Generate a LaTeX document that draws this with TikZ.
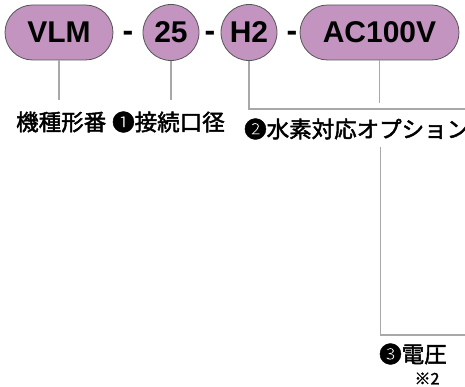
\documentclass[tikz,border=0pt]{standalone}
\usepackage{fontspec}
\setmainfont{Liberation Sans}
\newfontfamily\jpfont{Noto Sans CJK JP}[FakeBold=2]
\usetikzlibrary{positioning}
\definecolor{pillpink}{RGB}{196,148,193}
\definecolor{pilledge}{RGB}{85,85,85}
\definecolor{leadgray}{RGB}{168,168,168}

\begin{document}
\begin{tikzpicture}[x=1pt, y=-1pt,
    pill/.style={draw=pilledge, line width=0.8pt, fill=pillpink, rounded corners=27.5pt,
      minimum height=55pt, inner sep=0pt, font=\fontsize{30}{30}\selectfont\bfseries},
    ball/.style={draw=pilledge, line width=0.8pt, fill=pillpink, circle,
      minimum size=56pt, inner sep=0pt, font=\fontsize{30}{30}\selectfont\bfseries},
    dashmark/.style={anchor=base, inner sep=0pt, font=\fontsize{32}{30}\selectfont\bfseries},
    tag/.style={inner sep=0pt, font=\fontsize{22.5}{24}\selectfont\jpfont},
    lead/.style={draw=leadgray, line width=1.8pt}]
  \useasboundingbox (0,0) rectangle (465,387);
  % code blocks
  \node[pill, minimum width=108pt] (vlm) at (59,32.5) {VLM};
  \node[ball] (bore) at (171,32.5) {25};
  \node[ball] (hyd) at (249,32.5) {H2};
  \node[pill, minimum width=159pt] (volt) at (379.5,32.5) {AC100V};
  \node[dashmark] (d1) at (128,42) {-};
  \node[dashmark] (d2) at (210,42) {-};
  \node[dashmark] (d3) at (292,42) {-};
  % labels
  \node[tag, anchor=west] (model) at (16,122) {機種形番};
  \node[tag, anchor=west] (boretag) at (112,122) {❶接続口径};
  \node[tag, anchor=west] (hydtag) at (244,129) {❷水素対応オプション};
  \node[tag, anchor=west] (volttag) at (379,354) {❸電圧};
  \node[inner sep=0pt, font=\fontsize{16}{18}\selectfont\jpfont] (note) at (427,378.5) {※2};
  % leads
  \coordinate (vlmend) at (vlm.south |- 0,100);
  \coordinate (boreend) at (bore.south |- 0,100);
  \coordinate (voltend) at (volt.south |- 0,103);
  \coordinate (hydedge) at (465,109);
  \coordinate (hydtop) at (380.5,147);
  \coordinate (voltedge) at (465,335);
  \draw[lead] (vlm.south) -- (vlmend);
  \draw[lead] (bore.south) -- (boreend);
  \draw[lead] (hyd.south) |- (hydedge);
  \draw[lead] (volt.south) -- (voltend);
  \draw[lead] (hydtop) |- (voltedge);
\end{tikzpicture}
\end{document}
